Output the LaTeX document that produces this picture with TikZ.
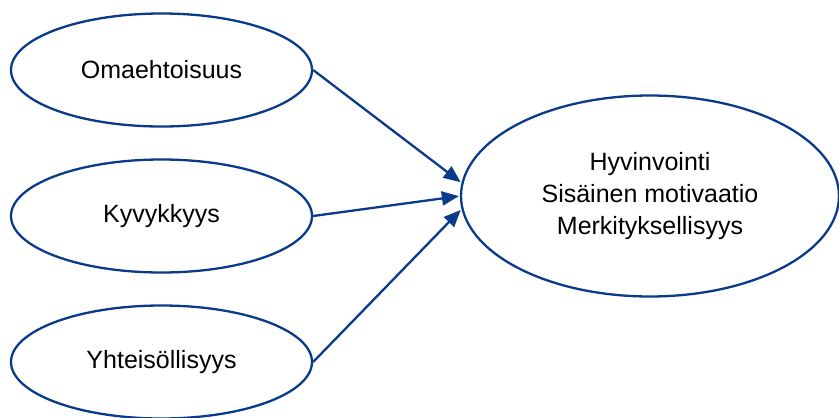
\documentclass[tikz,border=0pt]{standalone}
\usepackage{fontspec}
\setmainfont{Liberation Sans}
\usetikzlibrary{shapes.geometric,arrows.meta}
\definecolor{navy}{RGB}{10,58,138}
\begin{document}
\begin{tikzpicture}[x=1pt,y=-1pt,
  oval/.style={ellipse,draw=navy,line width=2.3pt,inner sep=0pt,font=\fontsize{25}{32}\selectfont,align=center},
  link/.style={draw=navy,line width=2.3pt,-{Triangle[length=17pt,width=14pt]},shorten >=1pt}]
\useasboundingbox (0,0) rectangle (839,418);
\node[oval,minimum width=301pt,minimum height=113pt] (a) at (161.5,70) {\raisebox{-1.5pt}{Omaehtoisuus}};
\node[oval,minimum width=301pt,minimum height=113pt] (b) at (161.5,216) {\raisebox{-1.5pt}{Kyvykkyys}};
\node[oval,minimum width=301pt,minimum height=113pt] (c) at (161.5,362) {\raisebox{-1.5pt}{Yhteisöllisyys}};
\node[oval,minimum width=378pt,minimum height=201pt] (r) at (650,196) {\raisebox{-2pt}{\begin{tabular}{@{}c@{}}Hyvinvointi\\Sisäinen motivaatio\\Merkityksellisyys\end{tabular}}};
\draw[link] (a.east) -- (r.176);
\draw[link] (b.east) -- (r.180);
\draw[link] (c.east) -- (r.184);
\end{tikzpicture}
\end{document}
